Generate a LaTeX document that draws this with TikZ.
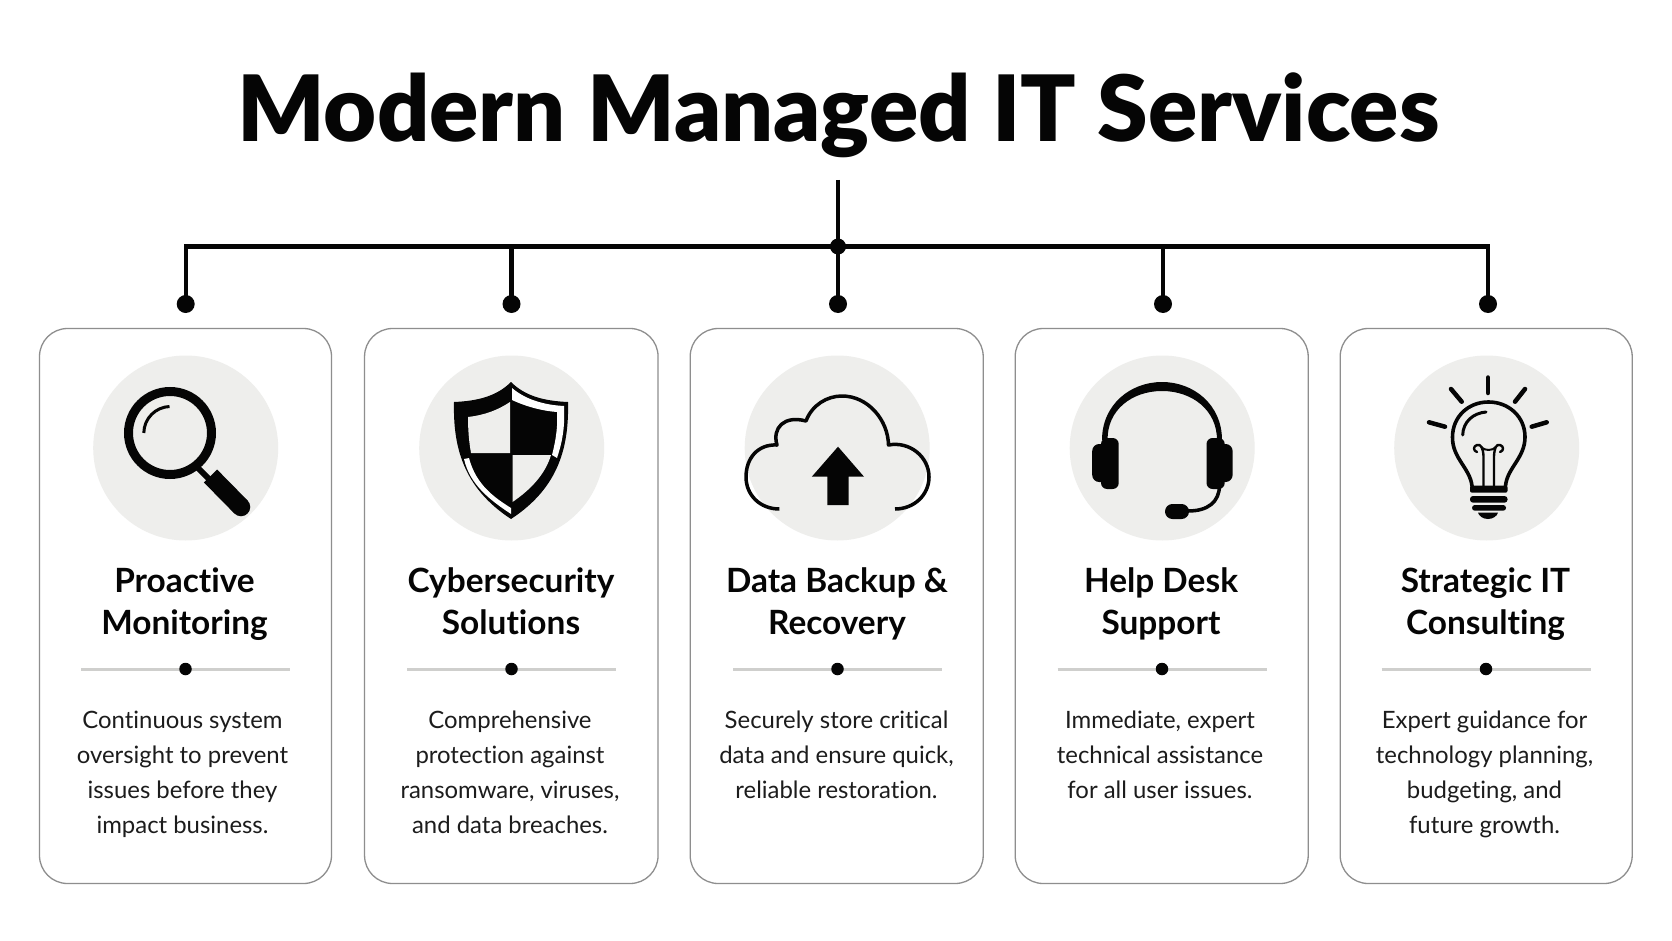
\documentclass[tikz,border=0pt]{standalone}
\usepackage{fontspec}
\setmainfont{Lato}[RawFeature=-liga]
\newfontfamily\headfont{Lato Black}[RawFeature=-liga]
\definecolor{inkc}{HTML}{050505}
\definecolor{discc}{HTML}{EEEEEC}
\definecolor{edgec}{HTML}{8E8E8E}
\definecolor{rulec}{HTML}{CFCFCD}
\definecolor{bodyc}{HTML}{1C1C1C}
\tikzset{
  cardbox/.style={draw=edgec,line width=1.3pt,fill=white,rounded corners=28pt,minimum width=292pt,minimum height=555pt,inner sep=0pt},
  disc/.style={circle,fill=discc,minimum size=185pt,inner sep=0pt},
  bigdot/.style={circle,fill=inkc,minimum size=18pt,inner sep=0pt},
  hubdot/.style={circle,fill=inkc,minimum size=16pt,inner sep=0pt},
  smalldot/.style={circle,fill=inkc,minimum size=12.5pt,inner sep=0pt},
  wire/.style={draw=inkc,line width=4.2pt},
  divider/.style={draw=rulec,line width=3pt},
  maintitle/.style={anchor=base,inner sep=0pt,text=inkc,font=\headfont\fontsize{91.5}{91.5}\selectfont},
  cardtitle/.style={anchor=base,inner sep=0pt,align=center,text=inkc,font=\bfseries\fontsize{33.4}{42}\selectfont},
  cardbody/.style={anchor=base,inner sep=0pt,align=center,text=bodyc,font=\fontsize{23.9}{35.1}\selectfont},
  iconline/.style={draw=inkc,line cap=round,line join=round},
}
\begin{document}
\begin{tikzpicture}[x=1pt,y=-1pt]
\path[use as bounding box,fill=white] (0,0) rectangle (1672,941);

% title
\node[maintitle] (title) at (838.5,141.5) {Modern Managed IT Services};

% cards
\node[cardbox] (card1) at (185.5,606) {};
\node[cardbox,minimum width=293.5pt] (card2) at (511.3,606) {};
\node[cardbox,minimum width=293pt] (card3) at (836.7,606) {};
\node[cardbox,minimum width=293pt] (card4) at (1161.7,606) {};
\node[cardbox] (card5) at (1486.2,606) {};

\node[disc] (disc1) at (185.7,448) {};
\node[disc] (disc2) at (511.7,448) {};
\node[disc] (disc3) at (837.2,448) {};
\node[disc] (disc4) at (1162.2,448) {};
\node[disc] (disc5) at (1486.7,448) {};

% connectors
\coordinate (trunktop) at (838,180);
\node[hubdot] (hub) at (838,246.5) {};
\node[bigdot] (d1) at (185.7,304) {};
\node[bigdot] (d2) at (511.5,304) {};
\node[bigdot] (d3) at (838,304) {};
\node[bigdot] (d4) at (1163,304) {};
\node[bigdot] (d5) at (1488,304) {};
\draw[wire] (trunktop) -- (hub.center);
\draw[wire] (hub.center) -- (d3.center);
\draw[wire,line join=miter] (d1.center) |- (d5.center |- hub.center) -- (d5.center);
\draw[wire] (d2.center) -- (d2.center |- hub.center);
\draw[wire] (d4.center) -- (d4.center |- hub.center);

% magnifier
\draw[inkc,line width=9pt] (170,433) circle[radius=41.5pt];
\draw[iconline,line width=3pt,line cap=butt] (143.8,433) .. controls (144,418) and (156,407) .. (169.5,406.5);
\draw[inkc,line width=6pt] (198,468) -- (212,482);
\draw[inkc,line width=18.5pt] (210.5,476) -- (241,507);
\fill[inkc] (241,507) circle[radius=9.25pt];

% shield
\fill[inkc] (511,382) .. controls (497,396) and (478,401) .. (454,402)
  .. controls (453,445) and (462,487) .. (511,519)
  .. controls (560,487) and (569,445) .. (568,402)
  .. controls (544,401) and (525,396) .. (511,382) -- cycle;
\fill[white] (512,388) .. controls (526,400) and (545,405) .. (564,406)
  .. controls (565,425) and (563,440) .. (557,458)
  -- (552,455) .. controls (556,440) and (558,425) .. (557,412)
  .. controls (543,411) and (527,407) .. (512,400) -- cycle;
\fill[white] (464,459) .. controls (470,485) and (490,500) .. (511,514)
  -- (511,508) .. controls (495,498) and (476,485) .. (469,458) -- cycle;
\fill[discc] (510,402) .. controls (498,410) and (485,415) .. (468,417)
  .. controls (468,430) and (469,442) .. (471,453) -- (510,453) -- cycle;
\fill[discc] (512.5,455) -- (551,455) .. controls (545,475) and (530,490) .. (512.5,502) -- cycle;

% cloud
\draw[inkc,line width=3.5pt,line join=round] (779.4,509) .. controls (760,509) and (746,495) .. (746,477)
  .. controls (746,458) and (758,444) .. (777,445)
  .. controls (772,428) and (784,415) .. (806,421)
  .. controls (812,405) and (827,396) .. (842,396)
  .. controls (868,396) and (888,420) .. (888.5,445)
  .. controls (910,441) and (929,457) .. (929,477)
  .. controls (929,495) and (914,509) .. (895,509);
\fill[inkc] (838,446.7) -- (864,476.7) -- (848.6,476.7) -- (848.6,505) -- (827.3,505) -- (827.3,476.7) -- (811.8,476.7) -- cycle;

% headset
\fill[inkc] (1102,440) .. controls (1102,405) and (1130,382) .. (1162,382)
  .. controls (1194,382) and (1222,405) .. (1222,440) -- (1217,440)
  .. controls (1217,410) and (1192,391) .. (1162,391)
  .. controls (1132,391) and (1107,410) .. (1107.6,440) -- cycle;
\fill[inkc,rounded corners=6pt] (1101,438) rectangle (1118.7,489);
\fill[inkc,rounded corners=7pt] (1092.2,444) rectangle (1112,482);
\fill[inkc,rounded corners=6pt] (1206.5,438) rectangle (1224.7,489);
\fill[inkc,rounded corners=7pt] (1212,444) rectangle (1232.6,482);
\draw[inkc,line width=3.5pt] (1219.5,486) .. controls (1219,502) and (1208,511) .. (1188,511);
\fill[inkc,rounded corners=7.4pt] (1165,504) rectangle (1189,519);

% bulb
\draw[iconline,line width=4.5pt] (1488,377.5) -- (1488,393);
\draw[iconline,line width=4.5pt] (1451,389) -- (1461.7,401.7);
\draw[iconline,line width=4.5pt] (1525,389) -- (1515,401.7);
\draw[iconline,line width=4.5pt] (1429,422.3) -- (1445,426.7);
\draw[iconline,line width=4.5pt] (1546.7,422.3) -- (1531.7,426.7);
\draw[iconline,line width=3.6pt] (1472,486) .. controls (1470,468) and (1452,458) .. (1452.5,437)
  .. controls (1452.5,417) and (1468,402) .. (1488.5,402)
  .. controls (1509,402) and (1525,417) .. (1525,437)
  .. controls (1525,458) and (1507,468) .. (1505.5,486);
\draw[iconline,line width=3pt] (1462.7,435) .. controls (1463,422) and (1473,413) .. (1486,412);
\draw[iconline,line width=2.4pt] (1483.5,486) -- (1483.5,456) .. controls (1483,448) and (1481,444) .. (1477,445)
  .. controls (1473,446) and (1473,451) .. (1477,452);
\draw[iconline,line width=2.4pt] (1494,486) -- (1494,456) .. controls (1494.5,448) and (1496,444) .. (1500,445)
  .. controls (1504,446) and (1504,451) .. (1500,452);
\draw[iconline,line width=2pt] (1481,447) .. controls (1485,451) and (1492,451) .. (1496,447);
\fill[inkc,rounded corners=2pt] (1470,485.5) rectangle (1507.5,492.7);
\fill[inkc,rounded corners=3pt] (1470,496) rectangle (1507.5,502.7);
\fill[inkc,rounded corners=2.8pt] (1472,505) rectangle (1506,510.7);
\fill[inkc] (1478,512.7) -- (1498,512.7) .. controls (1497,516) and (1493,519) .. (1488,519) .. controls (1483,519) and (1479,516) .. (1478,512.7) -- cycle;

% card titles
\node[cardtitle] (t1) at (184.5,634.5) {Proactive\\Monitoring};
\node[cardtitle] (t2) at (511,634.5) {Cybersecurity\\Solutions};
\node[cardtitle] (t3) at (837,634.5) {Data Backup \&\\Recovery};
\node[cardtitle] (t4) at (1161,634.5) {Help Desk\\Support};
\node[cardtitle] (t5) at (1485.5,634.5) {Strategic IT\\Consulting};

% dividers
\foreach \n/\cx in {1/185.5,2/511.5,3/837.5,4/1162,5/1486}{
  \coordinate (sepL\n) at (\cx-104.5,669);
  \coordinate (sepR\n) at (\cx+104.5,669);
}
\draw[divider] (sepL1) -- (sepR1);
\draw[divider] (sepL2) -- (sepR2);
\draw[divider] (sepL3) -- (sepR3);
\draw[divider] (sepL4) -- (sepR4);
\draw[divider] (sepL5) -- (sepR5);
\node[smalldot] (sep1) at (185.5,669) {};
\node[smalldot] (sep2) at (511.5,669) {};
\node[smalldot] (sep3) at (837.5,669) {};
\node[smalldot] (sep4) at (1162,669) {};
\node[smalldot] (sep5) at (1486,669) {};

% descriptions
\node[cardbody] (b1) at (182.5,833.3) {Continuous system\\oversight to prevent\\issues before they\\impact business.};
\node[cardbody] (b2) at (510,833.3) {Comprehensive\\protection against\\ransomware, viruses,\\and data breaches.};
\node[cardbody] (b3) at (836.5,798.3) {Securely store critical\\data and ensure quick,\\reliable restoration.};
\node[cardbody] (b4) at (1160,798.3) {Immediate, expert\\technical assistance\\for all user issues.};
\node[cardbody] (b5) at (1484.5,833.3) {Expert guidance for\\technology planning,\\budgeting, and\\future growth.};
\end{tikzpicture}
\end{document}
